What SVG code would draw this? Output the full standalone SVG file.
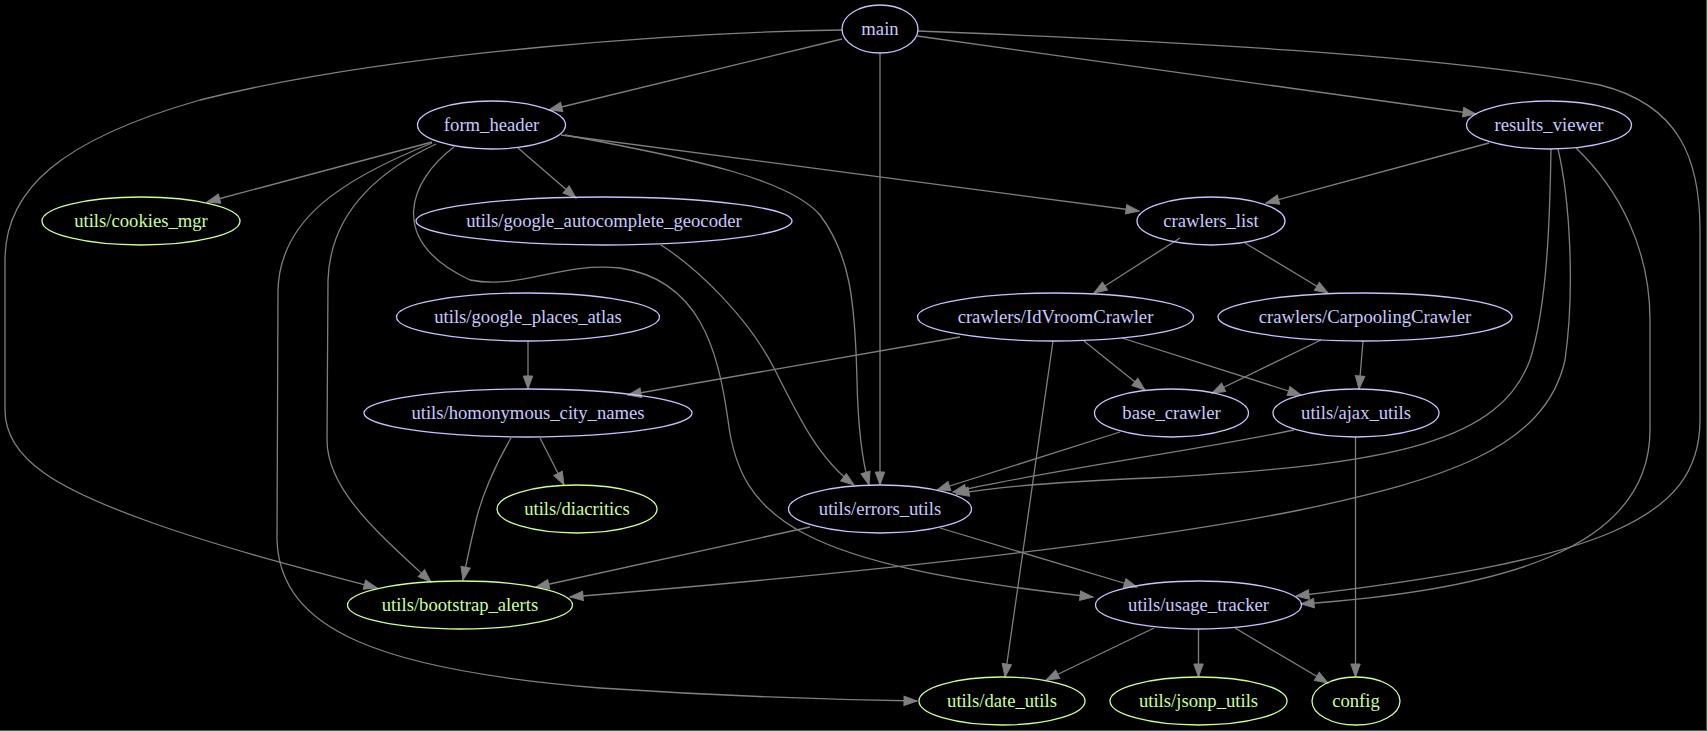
<svg xmlns="http://www.w3.org/2000/svg" width="1707" height="731" viewBox="0 0 1707 731">
<style>
.e{fill:none;stroke:#7f7f7f;stroke-width:1.3;marker-end:url(#ah)}
.b ellipse{fill:none;stroke:#c4c4ff;stroke-width:1.3}
.b text{fill:#c8c8ff}
.g ellipse{fill:none;stroke:#ccff99;stroke-width:1.3}
.g text{fill:#ccff99}
text{font-family:"Liberation Serif","Times New Roman",serif;font-size:18.67px;text-anchor:middle}
</style>
<defs>
<marker id="ah" markerUnits="userSpaceOnUse" markerWidth="15" markerHeight="11" refX="13" refY="4.7" orient="auto" overflow="visible">
<path d="M0,0 L13,4.7 L0,9.4 z" fill="#7f7f7f" stroke="#7f7f7f" stroke-width="1"/>
</marker>
</defs>
<rect x="0" y="0" width="1707" height="731" fill="#000"/>
<line x1="0" y1="730.5" x2="1707" y2="730.5" stroke="#555" stroke-width="1"/>
<line x1="1706.5" y1="0" x2="1706.5" y2="731" stroke="#555" stroke-width="1"/>
<g id="edges">
<path class="e" d="M842,39 L549,110"/>
<path class="e" d="M917,36 L1476,114"/>
<path class="e" d="M880,53 L880,485"/>
<path class="e" d="M842,30 C700,32 400,50 200,100 C60,140 5,190 5,260 L5,410 C5,460 60,490 150,522 C220,547 300,568 377,588"/>
<path class="e" d="M917,31 C1150,40 1450,55 1600,85 C1680,105 1700,160 1700,230 L1700,420 C1700,520 1600,560 1296,596"/>
<path class="e" d="M432,142 L207,202"/>
<path class="e" d="M518,148 L576,198"/>
<path class="e" d="M561,135 L1139,211"/>
<path class="e" d="M565,135 C700,160 790,180 820,215 C850,255 855,300 857,380 C858,430 862,460 869,485"/>
<path class="e" d="M436,144 C370,175 330,220 328,280 L327,440 C327,490 380,535 431,582"/>
<path class="e" d="M432,143 C340,180 280,220 278,290 L277,540 C280,630 380,670 600,688 C750,698 850,700 917,701"/>
<path class="e" d="M454,147 C410,180 385,240 470,280 C520,290 560,262 620,268 C700,280 718,350 728,420 C740,520 800,565 1093,597"/>
<path class="e" d="M1489,143 L1266,203"/>
<path class="e" d="M1551,149 C1550,200 1549,300 1530,360 C1500,440 1400,465 1150,478 C1050,482 990,488 956,494"/>
<path class="e" d="M1558,149 C1570,200 1575,290 1565,360 C1545,450 1440,480 1300,510 C1150,540 900,570 570,597"/>
<path class="e" d="M1576,148 C1620,190 1650,250 1650,320 L1650,430 C1650,550 1500,590 1301,604"/>
<path class="e" d="M1180,238 L1094,293"/>
<path class="e" d="M1245,243 L1328,293"/>
<path class="e" d="M960,337 L628,395"/>
<path class="e" d="M1084,341 L1145,390"/>
<path class="e" d="M1122,338 L1301,395"/>
<path class="e" d="M1053,341 L1005,677"/>
<path class="e" d="M1321,340 L1212,393"/>
<path class="e" d="M1363,341 L1359,389"/>
<path class="e" d="M528,341 L528,389"/>
<path class="e" d="M540,438 L564,485"/>
<path class="e" d="M511,438 C495,465 480,500 475,525 C470,545 467,560 463,580"/>
<path class="e" d="M661,245 C700,270 750,320 775,370 C800,420 820,460 854,485"/>
<path class="e" d="M1120,432 L937,490"/>
<path class="e" d="M1294,430 C1200,450 1050,470 953,492"/>
<path class="e" d="M1355.5,437 L1355.5,677"/>
<path class="e" d="M810,527 L536,587"/>
<path class="e" d="M940,528 L1137,587"/>
<path class="e" d="M1154,628 L1046,680"/>
<path class="e" d="M1198.5,629 L1198.5,677"/>
<path class="e" d="M1235,628 L1328,683"/>
</g>
<g id="main" class="b"><ellipse cx="880" cy="29" rx="38" ry="24"/><text x="880" y="35">main</text></g>
<g id="form_header" class="b"><ellipse cx="491.5" cy="125" rx="74" ry="24"/><text x="491.5" y="131">form_header</text></g>
<g id="results_viewer" class="b"><ellipse cx="1549" cy="125" rx="82.5" ry="24"/><text x="1549" y="131">results_viewer</text></g>
<g id="utils_cookies_mgr" class="g"><ellipse cx="141" cy="221" rx="99" ry="24"/><text x="141" y="227">utils/cookies_mgr</text></g>
<g id="utils_google_autocomplete_geocoder" class="b"><ellipse cx="604" cy="221" rx="188" ry="24"/><text x="604" y="227">utils/google_autocomplete_geocoder</text></g>
<g id="crawlers_list" class="b"><ellipse cx="1211" cy="221" rx="74" ry="24"/><text x="1211" y="227">crawlers_list</text></g>
<g id="utils_google_places_atlas" class="b"><ellipse cx="528" cy="317" rx="131.5" ry="24"/><text x="528" y="323">utils/google_places_atlas</text></g>
<g id="crawlers_IdVroomCrawler" class="b"><ellipse cx="1055.5" cy="317" rx="138" ry="24"/><text x="1055.5" y="323">crawlers/IdVroomCrawler</text></g>
<g id="crawlers_CarpoolingCrawler" class="b"><ellipse cx="1365" cy="317" rx="147" ry="24"/><text x="1365" y="323">crawlers/CarpoolingCrawler</text></g>
<g id="utils_homonymous_city_names" class="b"><ellipse cx="528" cy="413" rx="164" ry="24"/><text x="528" y="419">utils/homonymous_city_names</text></g>
<g id="base_crawler" class="b"><ellipse cx="1171.5" cy="413" rx="77" ry="24"/><text x="1171.5" y="419">base_crawler</text></g>
<g id="utils_ajax_utils" class="b"><ellipse cx="1356" cy="413" rx="83" ry="24"/><text x="1356" y="419">utils/ajax_utils</text></g>
<g id="utils_diacritics" class="g"><ellipse cx="577" cy="509" rx="80" ry="24"/><text x="577" y="515">utils/diacritics</text></g>
<g id="utils_errors_utils" class="b"><ellipse cx="880" cy="509" rx="91.5" ry="24"/><text x="880" y="515">utils/errors_utils</text></g>
<g id="utils_bootstrap_alerts" class="g"><ellipse cx="460" cy="605" rx="112.5" ry="24"/><text x="460" y="611">utils/bootstrap_alerts</text></g>
<g id="utils_usage_tracker" class="b"><ellipse cx="1198.5" cy="605" rx="103" ry="24"/><text x="1198.5" y="611">utils/usage_tracker</text></g>
<g id="utils_date_utils" class="g"><ellipse cx="1002" cy="701" rx="83" ry="24"/><text x="1002" y="707">utils/date_utils</text></g>
<g id="utils_jsonp_utils" class="g"><ellipse cx="1198.5" cy="701" rx="88.5" ry="24"/><text x="1198.5" y="707">utils/jsonp_utils</text></g>
<g id="config" class="g"><ellipse cx="1356" cy="701" rx="44" ry="24"/><text x="1356" y="707">config</text></g>
</svg>
